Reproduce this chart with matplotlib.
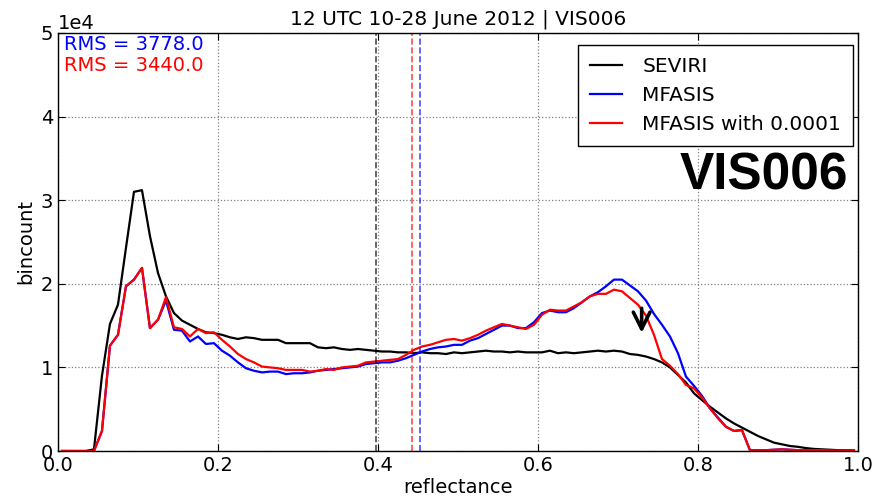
import matplotlib
matplotlib.use("Agg")
import matplotlib.pyplot as plt
import numpy as np

# Reflectance histogram, 100 bins of width 0.01 (counts in units of 1e4)
bin_edges = np.linspace(0.0, 1.0, 101)
bin_centres = 0.5 * (bin_edges[:-1] + bin_edges[1:])

seviri = [
    0.0, 0.0, 0.0, 0.0, 0.02, 0.90, 1.52, 1.75, 2.43, 3.10,
    3.12, 2.57, 2.13, 1.85, 1.65, 1.56, 1.51, 1.46, 1.42, 1.41,
    1.39, 1.36, 1.34, 1.36, 1.35, 1.33, 1.33, 1.33, 1.29, 1.29,
    1.29, 1.29, 1.24, 1.23, 1.24, 1.22, 1.21, 1.22, 1.21, 1.20,
    1.19, 1.19, 1.18, 1.18, 1.17, 1.18, 1.17, 1.17, 1.16, 1.18,
    1.17, 1.18, 1.19, 1.20, 1.19, 1.19, 1.18, 1.19, 1.18, 1.18,
    1.18, 1.20, 1.17, 1.18, 1.17, 1.18, 1.19, 1.20, 1.19, 1.20,
    1.19, 1.16, 1.15, 1.13, 1.10, 1.06, 1.00, 0.91, 0.82, 0.69,
    0.61, 0.53, 0.46, 0.39, 0.33, 0.28, 0.23, 0.18, 0.14, 0.10,
    0.08, 0.06, 0.05, 0.035, 0.025, 0.02, 0.015, 0.01, 0.008, 0.005,
]
mfasis = [
    0.0, 0.0, 0.0, 0.0, 0.0, 0.24, 1.26, 1.39, 1.97, 2.05,
    2.19, 1.47, 1.57, 1.80, 1.45, 1.44, 1.31, 1.37, 1.28, 1.29,
    1.20, 1.14, 1.06, 0.99, 0.96, 0.94, 0.95, 0.95, 0.92, 0.93,
    0.93, 0.94, 0.96, 0.97, 0.98, 0.99, 1.00, 1.01, 1.04, 1.05,
    1.06, 1.06, 1.08, 1.11, 1.15, 1.19, 1.22, 1.24, 1.25, 1.27,
    1.27, 1.32, 1.35, 1.40, 1.45, 1.50, 1.50, 1.47, 1.47, 1.54,
    1.65, 1.68, 1.66, 1.66, 1.71, 1.78, 1.85, 1.90, 1.97, 2.05,
    2.05, 1.98, 1.91, 1.80, 1.64, 1.51, 1.37, 1.17, 0.89, 0.78,
    0.66, 0.51, 0.40, 0.29, 0.24, 0.25, 0.01, 0.01, 0.01, 0.015,
    0.02, 0.015, 0.01, 0.01, 0.01, 0.01, 0.005, 0.005, 0.005, 0.005,
]
mfasis_eps = [
    0.0, 0.0, 0.0, 0.0, 0.0, 0.24, 1.26, 1.39, 1.97, 2.05,
    2.19, 1.47, 1.57, 1.84, 1.48, 1.46, 1.37, 1.46, 1.41, 1.42,
    1.33, 1.25, 1.16, 1.10, 1.06, 1.01, 1.00, 0.99, 0.97, 0.97,
    0.97, 0.95, 0.96, 0.98, 0.97, 1.00, 1.01, 1.02, 1.06, 1.07,
    1.08, 1.09, 1.10, 1.15, 1.21, 1.25, 1.27, 1.30, 1.33, 1.34,
    1.32, 1.35, 1.39, 1.44, 1.48, 1.52, 1.50, 1.48, 1.46, 1.51,
    1.63, 1.69, 1.68, 1.68, 1.73, 1.78, 1.85, 1.88, 1.88, 1.93,
    1.91, 1.83, 1.75, 1.62, 1.39, 1.10, 1.02, 0.92, 0.79, 0.75,
    0.64, 0.51, 0.39, 0.29, 0.24, 0.25, 0.01, 0.01, 0.01, 0.015,
    0.02, 0.015, 0.01, 0.01, 0.01, 0.01, 0.005, 0.005, 0.005, 0.005,
]

SCALE = 1e4
mean_refl = {"k": 0.397, "r": 0.443, "b": 0.452}
rms_blue = 3778.0
rms_red = 3440.0

plt.rcParams["font.family"] = "DejaVu Sans"
plt.rcParams["font.size"] = 14

fig = plt.figure(figsize=(8.77, 4.96), dpi=100)
ax = fig.add_axes([0.0661, 0.0907, 0.9122, 0.8428])

ax.plot(bin_centres, np.array(seviri) * SCALE, color="k", lw=1.6, label="SEVIRI")
ax.plot(bin_centres, np.array(mfasis) * SCALE, color="b", lw=1.6, label="MFASIS")
ax.plot(bin_centres, np.array(mfasis_eps) * SCALE, color="r", lw=1.6,
        label="MFASIS with 0.0001")

for c, xm in mean_refl.items():
    ax.axvline(xm, color=c, ls="--", lw=1.2, alpha=0.7)

ax.annotate("", xy=(0.7296, 1.38 * SCALE), xytext=(0.7296, 1.74 * SCALE),
            arrowprops=dict(arrowstyle="->", color="k", lw=2.6,
                            mutation_scale=30))

ax.set_xlim(0.0, 1.0)
ax.set_ylim(0, 5 * SCALE)
ax.ticklabel_format(style="sci", axis="y", scilimits=(0, 0))
ax.tick_params(direction="in", top=True, right=True, length=5, labelsize=14)
ax.grid(True, color="#808080", ls=":", lw=0.9)
for s in ax.spines.values():
    s.set_linewidth(1.0)

ax.set_xlabel("reflectance", fontsize=14, labelpad=2)
ax.set_ylabel("bincount", fontsize=14)
ax.set_title("12 UTC 10-28 June 2012 | VIS006", fontsize=14.5, pad=6)

ax.text(0.008, 0.995, f"RMS = {rms_blue:.1f}", color="b", transform=ax.transAxes,
        ha="left", va="top", fontsize=14)
ax.text(0.008, 0.945, f"RMS = {rms_red:.1f}", color="r", transform=ax.transAxes,
        ha="left", va="top", fontsize=14)

ax.text(0.9875, 0.6244, "VIS006", transform=ax.transAxes, ha="right",
        va="baseline", fontsize=37, fontweight="bold",
        family="Liberation Sans")

leg = ax.legend(loc="upper right", bbox_to_anchor=(0.994, 0.971),
                borderaxespad=0, fontsize=14.5, handlelength=1.6,
                handletextpad=1.0, labelspacing=0.5, borderpad=0.6,
                fancybox=False, framealpha=1.0)
leg.get_frame().set_edgecolor("k")
leg.get_frame().set_linewidth(1.0)

fig.savefig("out.png", dpi=100, facecolor="white")
